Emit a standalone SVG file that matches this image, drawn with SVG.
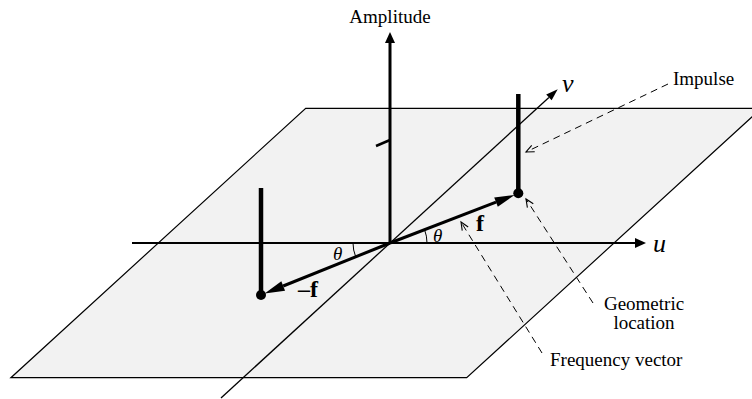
<svg xmlns="http://www.w3.org/2000/svg" width="752" height="399" viewBox="0 0 752 399">
<style>
.lbl{font-family:"Liberation Serif","DejaVu Serif",serif;font-size:19px;fill:#000}
.it{font-family:"Liberation Serif","DejaVu Serif",serif;font-style:italic;fill:#000}
.bf{font-family:"Liberation Serif","DejaVu Serif",serif;font-weight:bold;font-size:24px;fill:#000}
.ax{stroke:#000;fill:none}
.lead{stroke:#000;stroke-width:1;fill:none;stroke-dasharray:7 5}
.stick{stroke:#000;stroke-width:4.5;fill:none}
</style>
<defs>
<marker id="ah" markerUnits="userSpaceOnUse" markerWidth="12" markerHeight="11" refX="0" refY="5" orient="auto" overflow="visible">
<path d="M0,0 L11,5 L0,10 z" fill="#000"/>
</marker>
<marker id="vh" markerUnits="userSpaceOnUse" markerWidth="13" markerHeight="9" refX="0" refY="4" orient="auto" overflow="visible">
<path d="M0,0 L12,4 L0,8 z" fill="#000"/>
</marker>
<marker id="fh" markerUnits="userSpaceOnUse" markerWidth="21" markerHeight="11" refX="0" refY="5" orient="auto" overflow="visible">
<path d="M0,0 L20,5 L0,10 z" fill="#000"/>
</marker>
<marker id="oh" markerUnits="userSpaceOnUse" markerWidth="10" markerHeight="8" refX="8" refY="3.5" orient="auto" overflow="visible">
<path d="M0,0 L8,3.5 L0,7" fill="none" stroke="#000" stroke-width="1.1" stroke-dasharray="none"/>
</marker>
</defs>

<g id="plane">
<polygon points="305.7,108.3 761.4,108.3 466.7,377.7 10.9,377.7" fill="#f2f2f2" stroke="#000" stroke-width="1.2"/>
</g>

<g id="axes">
<line class="ax" x1="221" y1="398" x2="548.9" y2="97.4" stroke-width="1.3" marker-end="url(#vh)"/>
<line class="ax" x1="132" y1="243" x2="635" y2="243" stroke-width="2.2" marker-end="url(#ah)"/>
<line class="ax" x1="390" y1="243" x2="390" y2="43" stroke-width="3" marker-end="url(#ah)"/>
<line class="ax" x1="376" y1="146" x2="390" y2="140" stroke-width="2.5"/>
</g>

<g id="angles">
<path class="ax" d="M427,243 A37,37 0 0 0 424.5,229.5" stroke-width="1"/>
<path class="ax" d="M353,243 A37,37 0 0 0 355.7,256.8" stroke-width="1"/>
<text class="it" x="433" y="242" font-size="19">θ</text>
<text class="it" x="333" y="260" font-size="19">θ</text>
</g>

<g id="impulse-pos">
<line class="stick" x1="518.3" y1="94" x2="518.3" y2="193"/>
<circle cx="518.3" cy="193.3" r="5" fill="#000"/>
<line class="ax" x1="390" y1="243" x2="496" y2="202.1" stroke-width="3" marker-end="url(#fh)"/>
<text class="bf" x="476" y="230.5">f</text>
</g>

<g id="impulse-neg">
<line class="stick" x1="261" y1="188" x2="261" y2="295"/>
<circle cx="261" cy="295" r="5" fill="#000"/>
<line class="ax" x1="390" y1="243" x2="283.2" y2="286" stroke-width="3" marker-end="url(#fh)"/>
<text class="bf" x="298" y="297">–f</text>
</g>

<g id="axis-labels">
<text class="lbl" x="390" y="23" text-anchor="middle">Amplitude</text>
<text class="it" x="562" y="92" font-size="26">v</text>
<text class="it" x="653" y="252" font-size="26">u</text>
</g>

<g id="callouts">
<text class="lbl" x="673" y="85">Impulse</text>
<text class="lbl" x="644" y="310" text-anchor="middle">Geometric</text>
<text class="lbl" x="644" y="329" text-anchor="middle">location</text>
<text class="lbl" x="550" y="366">Frequency vector</text>
</g>

<g id="connectors">
<line class="lead" x1="668" y1="84" x2="526" y2="152" marker-end="url(#oh)"/>
<line class="lead" x1="593" y1="303" x2="526" y2="199" marker-end="url(#oh)"/>
<line class="lead" x1="542" y1="353" x2="461" y2="222" marker-end="url(#oh)"/>
</g>
</svg>
